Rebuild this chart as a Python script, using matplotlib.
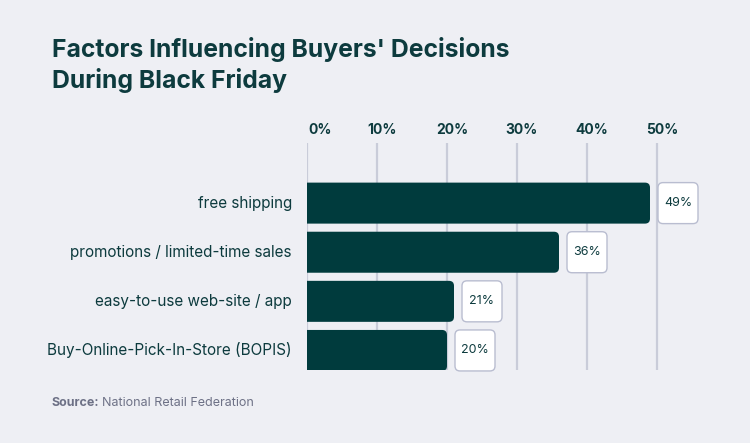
import matplotlib
matplotlib.use('Agg')
from matplotlib import pyplot as plt
from matplotlib.patches import FancyBboxPatch

categories = ['free shipping', 'promotions / limited-time sales',
              'easy-to-use web-site / app', 'Buy-Online-Pick-In-Store (BOPIS)']
values = [49, 36, 21, 20]
tick_values = [0, 10, 20, 30, 40, 50]
tick_labels = ['0%', '10%', '20%', '30%', '40%', '50%']

bg = '#eeeff4'
dark = '#003b3d'
text_col = '#0d3b3e'
grid_col = '#c9ccd9'
src_col = '#6d7186'

plt.rcParams['font.family'] = ['Inter', 'DejaVu Sans']

W, H = 750, 443
fig = plt.figure(figsize=(7.5, 4.43), dpi=100, facecolor=bg)
# axes spans pixels x 307..727 (0..60%), y 143..370
ax = fig.add_axes([307 / W, (H - 370) / H, 420 / W, 227 / H])
ax.set_facecolor(bg)
ax.set_xlim(0, 60)
ax.set_ylim(3.398, -1.224)
for s in ax.spines.values():
    s.set_visible(False)

px_x = 420 / 60.0   # pixels per x unit
px_y = 227 / 4.622  # pixels per y unit

for t in tick_values:
    ax.axvline(t, color=grid_col, lw=1.6, zorder=0)

bar_h = 41 / px_y
asp = px_x / px_y
for i, (c, v) in enumerate(zip(categories, values)):
    bar = FancyBboxPatch((-2, i - bar_h / 2), v + 2, bar_h,
                         boxstyle='round,pad=0,rounding_size=%f' % (5 / px_x),
                         mutation_aspect=asp, fc=dark, ec='none', zorder=2)
    ax.add_patch(bar)
    bx = v + 8 / px_x
    bw = 40 / px_x
    box = FancyBboxPatch((bx, i - bar_h / 2), bw, bar_h,
                         boxstyle='round,pad=0,rounding_size=%f' % (5 / px_x),
                         mutation_aspect=asp, fc='white', ec='#b9bdd0', lw=1,
                         zorder=3, clip_on=False)
    ax.add_patch(box)
    ax.text(bx + bw / 2, i, '%d%%' % v, ha='center', va='center',
            fontsize=9, color=text_col, zorder=4)
    ax.text(-15 / px_x, i, c, ha='right', va='center', fontsize=11,
            color=text_col, clip_on=False)

ax.set_xticks([])
ax.set_yticks([])
for t, lab in zip(tick_values, tick_labels):
    if t == 0:
        ax.text(t + 1 / px_x, -1.224 - 13 / px_y, lab, ha='left', va='center',
                fontsize=10, fontweight='bold', color=text_col, clip_on=False)
    else:
        ax.text(t + 5 / px_x, -1.224 - 13 / px_y, lab, ha='center', va='center',
                fontsize=10, fontweight='bold', color=text_col, clip_on=False)

fig.text(52 / W, 1 - 57 / H, "Factors Influencing Buyers' Decisions",
         fontsize=17.8, fontweight='bold', color=text_col, va='baseline')
fig.text(52 / W, 1 - 88 / H, 'During Black Friday',
         fontsize=17.8, fontweight='bold', color=text_col, va='baseline')

s1 = fig.text(52 / W, 1 - 403 / H, 'Source:', fontsize=9, fontweight='bold',
              color=src_col, va='center')
fig.canvas.draw()
bb = s1.get_window_extent()
fig.text((bb.x1 + 3) / W, 1 - 403 / H, 'National Retail Federation', fontsize=9,
         color=src_col, va='center')

fig.savefig('out.png', dpi=100, facecolor=bg)
